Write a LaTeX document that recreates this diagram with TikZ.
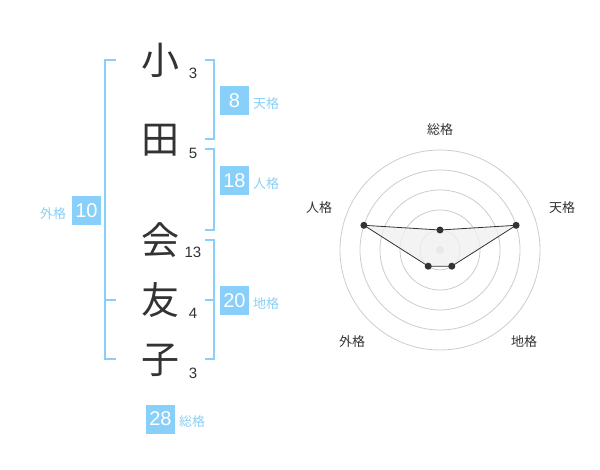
\documentclass[tikz,border=0pt]{standalone}
\usepackage{fontspec}
\setmainfont{Liberation Sans}
\newfontfamily\jpfont{Noto Sans CJK JP}
\definecolor{skyb}{HTML}{88CFFA}
\definecolor{skyt}{HTML}{8ACFF5}
\definecolor{ink}{HTML}{333333}
\definecolor{ring}{HTML}{CCCCCC}
\definecolor{area}{HTML}{F0F0F0}

\begin{document}
\begin{tikzpicture}[x=1pt,y=-1pt,
    kanji/.style={text=ink, font=\jpfont\fontsize{38}{38}\selectfont},
    stroke/.style={text=ink, font=\fontsize{15}{15}\selectfont},
    badge/.style={fill=skyb, text=white, minimum size=29pt, inner sep=0pt, font=\fontsize{20}{20}\selectfont},
    kaku/.style={text=skyt, font=\jpfont\fontsize{13}{13}\selectfont},
    brack/.style={draw=skyb, line width=2pt},
    axis/.style={text=ink, font=\jpfont\fontsize{13}{13}\selectfont},
    pt/.style={circle, fill=ink, inner sep=0pt, minimum size=7pt}]
\useasboundingbox (0,0) rectangle (600,470);

% name
\node[kanji] (k1) at (160,60) {小};
\node[kanji] (k2) at (160,140) {田};
\node[kanji] (k3) at (160,240) {会};
\node[kanji] (k4) at (160,300) {友};
\node[kanji] (k5) at (160,360) {子};
\node[stroke] (s1) at (193,73) {3};
\node[stroke] (s2) at (193,153) {5};
\node[stroke] (s3) at (193,252) {13};
\node[stroke] (s4) at (193,313) {4};
\node[stroke] (s5) at (193,373) {3};

% brackets
\draw[brack] (205,60) -- (214,60) -- (214,139) -- (205,139);
\draw[brack] (205,149) -- (214,149) -- (214,230) -- (205,230);
\draw[brack] (205,240) -- (214,240) -- (214,359) -- (205,359);
\draw[brack] (205,300) -- (214,300);
\draw[brack] (116,60) -- (105,60) -- (105,359) -- (116,359);
\draw[brack] (105,300) -- (116,300);

% kaku values
\node[badge] (ten) at (234.5,100.5) {8};
\node[kaku] (tenl) at (266,104) {天格};
\node[badge] (jin) at (234.5,180.5) {18};
\node[kaku] (jinl) at (266,184) {人格};
\node[badge] (chi) at (234.5,300.5) {20};
\node[kaku] (chil) at (266,304) {地格};
\node[badge] (gai) at (86.5,210.5) {10};
\node[kaku] (gail) at (53,214) {外格};
\node[badge] (sou) at (160.5,419) {28};
\node[kaku] (soul) at (192,422) {総格};

% radar
\foreach \r in {20,40,...,100}
    \draw[ring, line width=0.8pt] (440,250) circle (\r);
\fill[ring] (440,250) circle (4);
\coordinate (rs) at (440,230);
\coordinate (rt) at (516.1,225.3);
\coordinate (rc) at (451.8,266.2);
\coordinate (rg) at (428.2,266.2);
\coordinate (rj) at (363.9,225.3);
\filldraw[fill=area, fill opacity=0.8, draw=ink, line width=0.8pt] (rs) -- (rt) -- (rc) -- (rg) -- (rj) -- cycle;
\foreach \p in {rs,rt,rc,rg,rj}
    \node[pt] at (\p) {};
\node[axis] (as) at (440,130) {総格};
\node[axis] (at) at (562,208) {天格};
\node[axis] (aj) at (319,208) {人格};
\node[axis] (ag) at (352,342) {外格};
\node[axis] (ac) at (524,342) {地格};
\end{tikzpicture}
\end{document}
